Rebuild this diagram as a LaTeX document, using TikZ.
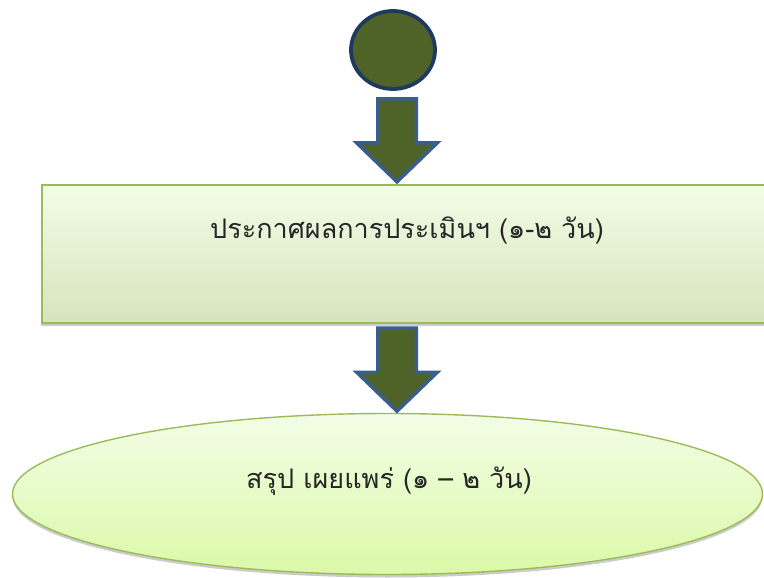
\documentclass[tikz,border=0pt]{standalone}
\usepackage{fontspec}
\newfontfamily\thaifont[Script=Thai]{Loma}
\usetikzlibrary{calc,shapes.geometric,shapes.arrows,shadows}

\definecolor{olive}{HTML}{4F6228}
\definecolor{navyline}{HTML}{1F3A5F}
\definecolor{arrowline}{HTML}{3A5E8C}
\definecolor{leafline}{HTML}{9BBB59}
\definecolor{leaftop}{HTML}{F2FDE6}
\definecolor{leafmid}{HTML}{E0FBC0}
\definecolor{leafbot}{HTML}{D6E4BD}
\definecolor{ovalbot}{HTML}{DBF9A8}

\tikzset{
  startdot/.style={ellipse, draw=navyline, line width=3.8pt, fill=olive, minimum width=84pt, minimum height=78pt, inner sep=0pt},
  blockarrow/.style={single arrow, draw=arrowline, line width=3.5pt, fill=olive, rotate=-90,
    single arrow tip angle=92, single arrow head extend=21pt, minimum height=83pt, minimum width=77pt,
    inner xsep=0pt, inner ysep=17.5pt},
  stagebox/.style={rectangle, draw=leafline, line width=1.8pt, top color=leaftop, middle color=leafmid, bottom color=leafbot,
    minimum width=760pt, minimum height=138pt, inner sep=0pt,
    drop shadow={shadow xshift=-1pt, shadow yshift=-3pt, opacity=0.2, fill=black}},
  stageoval/.style={ellipse, draw=leafline, line width=1.4pt, top color=leaftop, bottom color=ovalbot,
    minimum width=750pt, minimum height=161pt, inner sep=0pt,
    drop shadow={shadow xshift=0pt, shadow yshift=-3pt, opacity=0.2, fill=black}},
  label/.style={font=\thaifont\fontsize{27}{32}\selectfont, text=black!85}
}

\begin{document}
\begin{tikzpicture}[x=1pt,y=-1pt]
  \useasboundingbox (0,0) rectangle (764,578);
  \clip (0,0) rectangle (764,578);

  % start
  \node[startdot] (start) at (393,50) {};

  % announce results
  \node[stagebox] (announce) at (422,254) {};
  \node[label] (announcetext) at (407,231) {ประกาศผลการประเมินฯ (๑-๒ วัน)};

  % summary
  \node[stageoval] (summary) at (387.5,494) {};
  \node[label] (summarytext) at (389,481) {สรุป เผยแพร่ (๑ – ๒ วัน)};

  % block arrows
  \node[blockarrow] (arrowa) at ($(start.south)!0.5!(start.south|-announce.north)+(4,-6.5)$) {};
  \node[blockarrow] (arrowb) at ($(announce.south)!0.5!(announce.south|-summary.north)+(-25,-8)$) {};
\end{tikzpicture}
\end{document}
